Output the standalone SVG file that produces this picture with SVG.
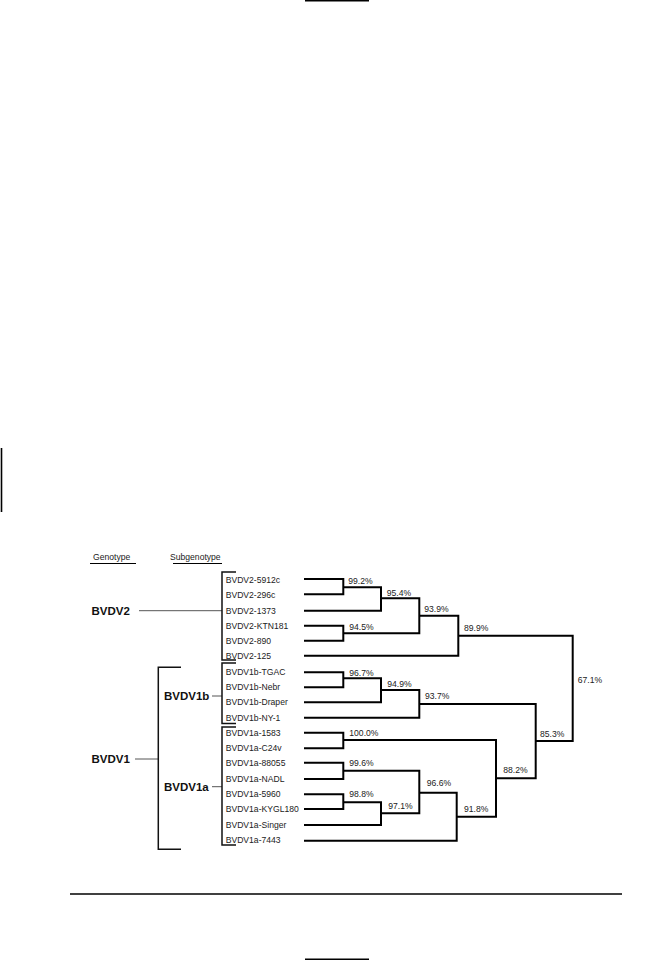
<svg xmlns="http://www.w3.org/2000/svg" width="672" height="960" viewBox="0 0 672 960">
<style>
text{font-family:"Liberation Sans",Arial,sans-serif;fill:#222}
.leaf{font-size:8.6px}
.pct{font-size:8.6px}
.hd{font-size:8.6px}
.big{font-size:11.5px;font-weight:bold;fill:#111}
.t{stroke:#000;stroke-width:2;fill:none}
.b{stroke:#111;stroke-width:1.5;fill:none}
.g{stroke:#555;stroke-width:1;fill:none}
.p{stroke:#000;stroke-width:1.6;fill:none}
</style>
<rect width="672" height="960" fill="#fff"/>
<g id="page-marks">
<line class="p" x1="305" y1="0.8" x2="369" y2="0.8"/>
<line class="p" x1="1.5" y1="448" x2="1.5" y2="512" stroke-width="2"/>
<line class="p" x1="70" y1="894" x2="622" y2="894"/>
<line class="p" x1="305" y1="959.2" x2="369" y2="959.2"/>
</g>
<g id="headers">
<text class="hd" x="93" y="560">Genotype</text>
<line stroke="#000" stroke-width="1.2" x1="90" y1="563.5" x2="136" y2="563.5"/>
<text class="hd" x="170" y="560">Subgenotype</text>
<line stroke="#000" stroke-width="1.2" x1="173" y1="563.5" x2="222" y2="563.5"/>
</g>
<g id="group-BVDV2">
<text class="big" x="91.5" y="615">BVDV2</text>
<line class="g" x1="139" y1="610.7" x2="222" y2="610.7"/>
<path class="b" d="M236,572 H222 V660 H236"/>
</g>
<g id="group-BVDV1">
<text class="big" x="91.5" y="763">BVDV1</text>
<line class="g" x1="135" y1="759" x2="158.3" y2="759"/>
<path class="b" d="M181,667.3 H158.3 V849.3 H181"/>
</g>
<g id="group-BVDV1b">
<text class="big" x="164" y="700">BVDV1b</text>
<line class="g" x1="212" y1="696" x2="222" y2="696"/>
<path class="b" d="M236,663 H222 V723.5 H236"/>
</g>
<g id="group-BVDV1a">
<text class="big" x="164" y="791">BVDV1a</text>
<line class="g" x1="212" y1="786.7" x2="222" y2="786.7"/>
<path class="b" d="M236,727 H222 V845 H236"/>
</g>
<g id="leaves" class="leaf">
<text x="225.7" y="582.5">BVDV2-5912c</text>
<text x="225.7" y="597.8">BVDV2-296c</text>
<text x="225.7" y="613.5">BVDV2-1373</text>
<text x="225.7" y="628.5">BVDV2-KTN181</text>
<text x="225.7" y="643.5">BVDV2-890</text>
<text x="225.7" y="658.5">BVDV2-125</text>
<text x="225.7" y="675">BVDV1b-TGAC</text>
<text x="225.7" y="690">BVDV1b-Nebr</text>
<text x="225.7" y="705.3">BVDV1b-Draper</text>
<text x="225.7" y="720.5">BVDV1b-NY-1</text>
<text x="225.7" y="735.7">BVDV1a-1583</text>
<text x="225.7" y="751">BVDV1a-C24v</text>
<text x="225.7" y="766">BVDV1a-88055</text>
<text x="225.7" y="781.5">BVDV1a-NADL</text>
<text x="225.7" y="797">BVDV1a-5960</text>
<text x="225.7" y="812">BVDV1a-KYGL180</text>
<text x="225.7" y="827.5">BVDV1a-Singer</text>
<text x="225.7" y="843.3">BVDV1a-7443</text>
</g>
<g id="connectors">
<path class="t" d="M304,579 H343.3 V594.3 H304"/>
<path class="t" d="M343.3,587.3 H381 V610.7 H304"/>
<path class="t" d="M304,625.7 H343.3 V640.7 H304"/>
<path class="t" d="M381,598.3 H419.3 V633.3 H343.3"/>
<path class="t" d="M419.3,615.7 H458.3 V655.7 H304"/>
<path class="t" d="M458.3,635.7 H572.7 V741 H535.7"/>
<path class="t" d="M304,672.3 H343.3 V687.3 H304"/>
<path class="t" d="M343.3,678.3 H381 V702.3 H304"/>
<path class="t" d="M381,690 H419.3 V717.7 H304"/>
<path class="t" d="M419.3,704 H535.7 V778.3 H496"/>
<path class="t" d="M304,732.7 H343.3 V748.3 H304"/>
<path class="t" d="M343.3,740 H496 V816.7 H456.7"/>
<path class="t" d="M304,762.7 H343.3 V779 H304"/>
<path class="t" d="M343.3,770.7 H419.3 V813.3 H381"/>
<path class="t" d="M304,794.3 H343.3 V809 H304"/>
<path class="t" d="M343.3,802.3 H381 V825 H304"/>
<path class="t" d="M419.3,792.7 H456.7 V840.7 H304"/>
</g>
<g id="node-labels" class="pct">
<text x="348.3" y="584">99.2%</text>
<text x="386.7" y="595.5">95.4%</text>
<text x="349.3" y="629.5">94.5%</text>
<text x="424.3" y="611.5">93.9%</text>
<text x="464" y="630.5">89.9%</text>
<text x="577.7" y="682.5">67.1%</text>
<text x="540" y="736.5">85.3%</text>
<text x="349.3" y="675.5">96.7%</text>
<text x="387.3" y="686.5">94.9%</text>
<text x="425" y="699">93.7%</text>
<text x="349.3" y="735.5">100.0%</text>
<text x="503.3" y="773">88.2%</text>
<text x="349.3" y="766">99.6%</text>
<text x="349.3" y="797">98.8%</text>
<text x="388.3" y="809">97.1%</text>
<text x="426.7" y="786">96.6%</text>
<text x="464" y="812">91.8%</text>
</g>
</svg>
